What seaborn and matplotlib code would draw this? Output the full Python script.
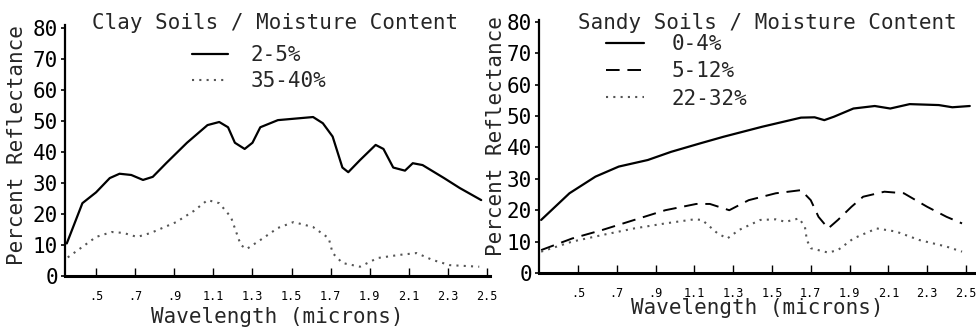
import numpy as np
import pandas as pd
import matplotlib
matplotlib.use("Agg")
import matplotlib.pyplot as plt
import seaborn as sns

# ---------------- data ----------------
clay_dry_wl = [0.35, 0.43, 0.50, 0.57, 0.62, 0.68, 0.74, 0.79, 0.86, 0.965, 1.07, 1.13, 1.175,
               1.21, 1.26, 1.30, 1.34, 1.43, 1.61, 1.66, 1.71, 1.76, 1.79, 1.85, 1.93, 1.97,
               2.02, 2.08, 2.12, 2.17, 2.28, 2.36, 2.47]
clay_dry_r = [10.5, 23.5, 27, 31.6, 33, 32.6, 31, 32, 36.5, 43, 48.7, 49.7, 48,
              43, 41, 43, 48, 50.3, 51.3, 49.3, 45, 35, 33.5, 37.4, 42.3, 41,
              35, 34, 36.4, 35.8, 31.6, 28.4, 24.5]

clay_wet_wl = [0.355, 0.43, 0.50, 0.58, 0.64, 0.71, 0.78, 0.91, 1.0, 1.07, 1.13, 1.19, 1.24,
               1.27, 1.34, 1.43, 1.51, 1.61, 1.69, 1.71, 1.76, 1.85, 1.94, 2.05, 2.14, 2.22,
               2.31, 2.46]
clay_wet_r = [6, 9.4, 12.6, 14.2, 13.9, 12.6, 13.9, 17.4, 21, 24.5, 23.5, 19, 10,
              8.7, 11.6, 15.5, 17.4, 15.8, 12.2, 7.4, 4.2, 3, 5.8, 6.8, 7.4, 5.2,
              3.5, 3]

sandy_dry_wl = [0.31, 0.456, 0.59, 0.71, 0.86, 0.98, 1.13, 1.25, 1.45, 1.65, 1.72, 1.77, 1.82,
                1.92, 2.03, 2.11, 2.21, 2.36, 2.43, 2.52]
sandy_dry_r = [16.9, 25.4, 30.7, 33.9, 36, 38.6, 41.3, 43.4, 46.6, 49.5, 49.6, 48.7, 49.8,
               52.4, 53.2, 52.4, 53.8, 53.5, 52.8, 53.2]

sandy_mid_wl = [0.31, 0.47, 0.625, 0.79, 0.95, 1.11, 1.18, 1.28, 1.38, 1.52, 1.65, 1.70, 1.74,
                1.79, 1.84, 1.91, 1.97, 2.08, 2.18, 2.30, 2.40, 2.48]
sandy_mid_r = [7.3, 11, 13.7, 16.9, 20, 22, 22, 20, 23.2, 25.4, 26.4, 23.2, 17.9,
               14.2, 16.9, 21.1, 24.3, 25.9, 25.4, 21.1, 17.9, 15.8]

sandy_wet_wl = [0.31, 0.47, 0.625, 0.79, 0.95, 1.10, 1.14, 1.22, 1.27, 1.33, 1.44, 1.52, 1.57,
                1.64, 1.67, 1.68, 1.70, 1.79, 1.84, 1.92, 2.04, 2.14, 2.26, 2.40, 2.48]
sandy_wet_r = [6.8, 10, 12.1, 14.2, 15.8, 17.1, 16.9, 12.6, 11, 13.7, 16.9, 17.1, 16.3,
               17.4, 14.7, 10.5, 7.9, 6.5, 7.3, 11, 14.2, 13.2, 10.5, 8.4, 6.8]

x_ticks = [0.5, 0.7, 0.9, 1.1, 1.3, 1.5, 1.7, 1.9, 2.1, 2.3, 2.5]
x_tick_labels = [".5", ".7", ".9", "1.1", "1.3", "1.5", "1.7", "1.9", "2.1", "2.3", "2.5"]
y_ticks = [0, 10, 20, 30, 40, 50, 60, 70, 80]

clay_title = "Clay Soils / Moisture Content"
sandy_title = "Sandy Soils / Moisture Content"
clay_labels = ["2-5%", "35-40%"]
sandy_labels = ["0-4%", "5-12%", "22-32%"]
x_label = "Wavelength (microns)"
y_label = "Percent Reflectance"

# ---------------- style ----------------
sns.set_theme(style="ticks")
FONT = ["DejaVu Sans Mono", "DejaVu Sans"]
plt.rcParams["font.family"] = FONT

fig = plt.figure(figsize=(9.76, 3.29), dpi=100)
W, H = 976, 329

def add_axes(x0, x1, ybot, ytop):
    return fig.add_axes([x0 / W, 1 - ybot / H, (x1 - x0) / W, (ybot - ytop) / H])

ax1 = add_axes(65, 490, 276, 25)
ax2 = add_axes(539, 976, 273, 20)

solid = dict(color="black", linewidth=1.6, linestyle="-")
dotted = dict(color="#555555", linewidth=1.5, linestyle=(0, (1, 2.5)))
dashed = dict(color="black", linewidth=1.4, linestyle=(0, (7, 4)))

def draw(ax, wl, r, label, style):
    df = pd.DataFrame({"wl": wl, "r": r})
    sns.lineplot(data=df, x="wl", y="r", ax=ax, label=label, estimator=None,
                 sort=False, **style)

draw(ax1, clay_dry_wl, clay_dry_r, clay_labels[0], solid)
draw(ax1, clay_wet_wl, clay_wet_r, clay_labels[1], dotted)

draw(ax2, sandy_dry_wl, sandy_dry_r, sandy_labels[0], solid)
draw(ax2, sandy_mid_wl, sandy_mid_r, sandy_labels[1], dashed)
draw(ax2, sandy_wet_wl, sandy_wet_r, sandy_labels[2], dotted)

def style_axes(ax, xlim, ylim):
    ax.set_xlim(*xlim)
    ax.set_ylim(*ylim)
    ax.set_facecolor("white")
    for s in ["top", "right"]:
        ax.spines[s].set_visible(False)
    ax.spines["bottom"].set_linewidth(2.2)
    ax.spines["left"].set_linewidth(1.6)
    ax.spines["bottom"].set_color("black")
    ax.spines["left"].set_color("black")
    ax.set_xticks(x_ticks)
    ax.set_xticklabels(x_tick_labels, fontsize=8.5, family=FONT)
    ax.set_yticks(y_ticks)
    ax.set_yticklabels([str(v) for v in y_ticks], fontsize=15, family=FONT)
    ax.tick_params(axis="x", direction="in", length=6, width=1, pad=10, colors="black")
    ax.tick_params(axis="y", direction="out", length=3, width=1.2, pad=2, colors="black")
    ax.grid(False)

style_axes(ax1, (0.341, 2.515), (0, 81))
style_axes(ax2, (0.299, 2.552), (0, 80.6))

ax1.set_xlabel(x_label, fontsize=15, family=FONT, va="center")
ax1.xaxis.set_label_coords(0.5, (276 - 317) / 251)
ax1.set_ylabel(y_label, fontsize=15, family=FONT, va="center")
ax1.yaxis.set_label_coords((17 - 65) / 425, (276 - 145) / 251)

ax2.set_xlabel(x_label, fontsize=15, family=FONT, va="center")
ax2.xaxis.set_label_coords(0.5, (273 - 308) / 253)
ax2.set_ylabel(y_label, fontsize=15, family=FONT, va="center")
ax2.yaxis.set_label_coords((496 - 539) / 437, (273 - 136) / 253)

ax1.text((92 - 65) / 425, (276 - 23) / 251, clay_title, transform=ax1.transAxes,
         fontsize=15, family=FONT, ha="left", va="center")
ax2.text((578 - 539) / 437, (273 - 23) / 253, sandy_title, transform=ax2.transAxes,
         fontsize=15, family=FONT, ha="left", va="center")

ax1.legend(loc="upper left", bbox_to_anchor=(192 / W, 1 - 45 / H),
           bbox_transform=fig.transFigure, frameon=False,
           handlelength=1.75, handletextpad=1.05, labelspacing=0.28,
           borderpad=0, borderaxespad=0, prop={"family": FONT, "size": 15})
ax2.legend(loc="upper left", bbox_to_anchor=(606 / W, 1 - 34 / H),
           bbox_transform=fig.transFigure, frameon=False,
           handlelength=1.8, handletextpad=1.35, labelspacing=0.35,
           borderpad=0, borderaxespad=0, prop={"family": FONT, "size": 15})

fig.patch.set_facecolor("white")
fig.savefig("out.png", dpi=100, facecolor="white")
